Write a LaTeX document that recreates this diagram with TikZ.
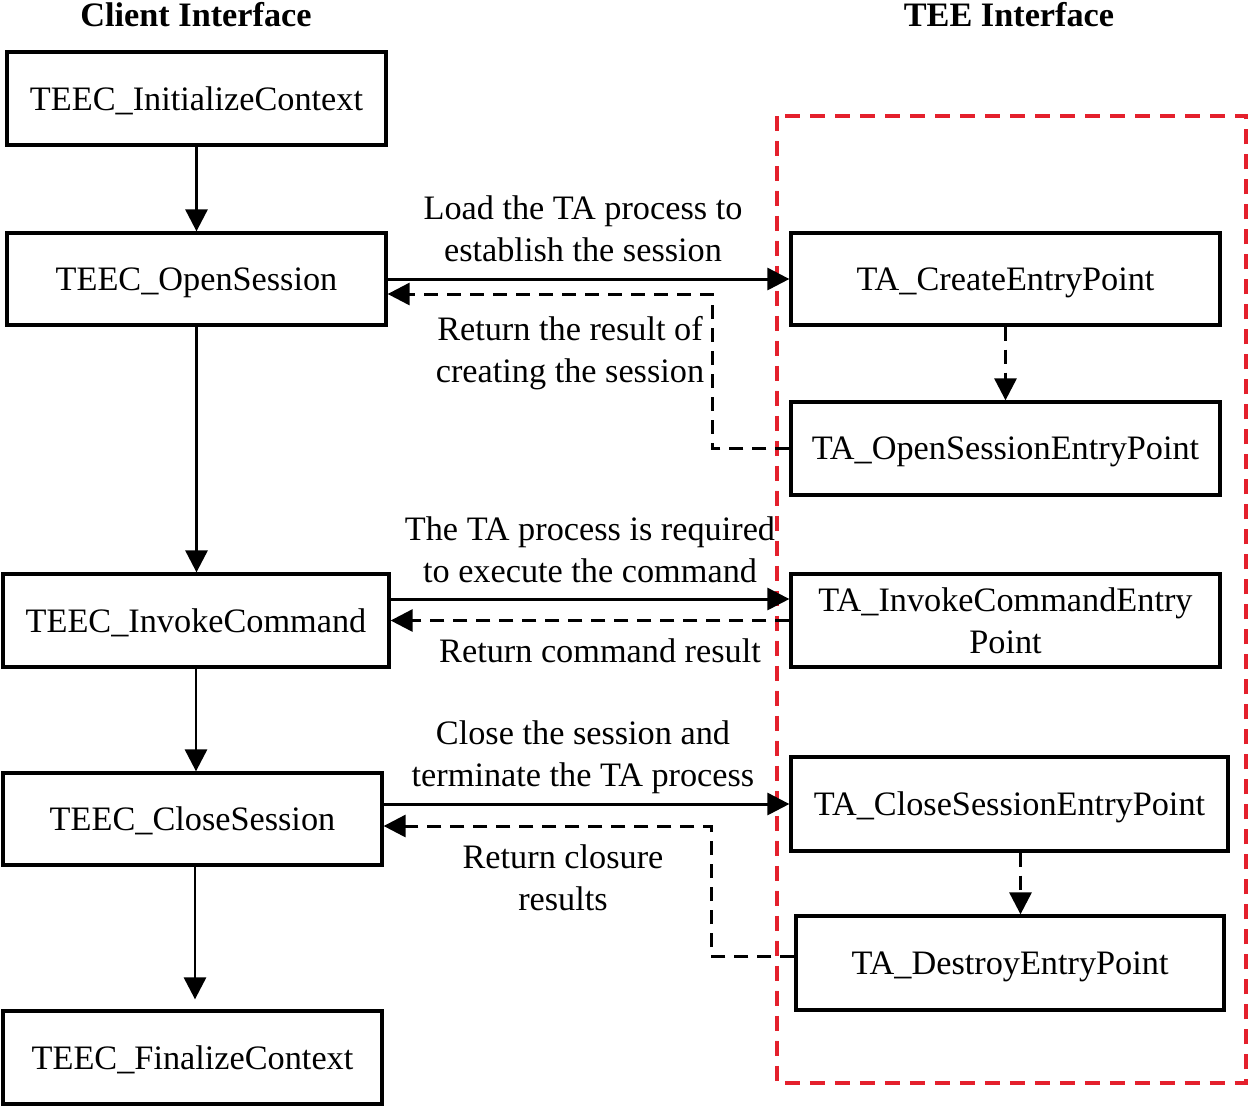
\documentclass[tikz,border=0pt]{standalone}
\usepackage{fontspec}
\setmainfont{Liberation Serif}
\usetikzlibrary{arrows.meta,calc}
\definecolor{teered}{RGB}{228,32,44}
\begin{document}
\begin{tikzpicture}[x=0.02cm,y=-0.02cm,
  every node/.style={font=\fontsize{19.5}{24}\selectfont, text=black},
  box/.style={draw, line width=1.9pt, fill=white, inner sep=0pt, align=center, text depth=0pt},
  lbl/.style={align=center, inner sep=0pt},
  hdr/.style={font=\fontsize{19.5}{24}\selectfont\bfseries, anchor=base, inner sep=0pt},
  solidarrow/.style={line width=1.7pt, -{Triangle[length=0.44cm,width=0.44cm]}},
  dasharrow/.style={line width=1.7pt, dash pattern=on 0.28cm off 0.18cm, -{Triangle[length=0.44cm,width=0.44cm]}},
  reddash/.style={line width=1.9pt, draw=teered, dash pattern=on 0.3cm off 0.2cm}]
\useasboundingbox (0,0) rectangle (1250,1107);

% TEE region
\draw[reddash] (777,116) rectangle (1246,1083);

% headers
\node[hdr] (hclient) at (196,26) {Client Interface};
\node[hdr] (htee) at (1009,26) {TEE Interface};

% client boxes
\node[box, minimum width=7.58cm, minimum height=1.86cm] (init) at (196.5,98.5) {TEEC\_InitializeContext};
\node[box, minimum width=7.58cm, minimum height=1.84cm] (open) at (196.5,279) {TEEC\_OpenSession};
\node[box, minimum width=7.72cm, minimum height=1.86cm] (invoke) at (196,620.5) {TEEC\_InvokeCommand};
\node[box, minimum width=7.58cm, minimum height=1.84cm] (close) at (192.5,819) {TEEC\_CloseSession};
\node[box, minimum width=7.58cm, minimum height=1.86cm] (final) at (192.5,1057.5) {TEEC\_FinalizeContext};

% TEE boxes
\node[box, minimum width=8.58cm, minimum height=1.84cm] (create) at (1005.5,279) {TA\_CreateEntryPoint};
\node[box, minimum width=8.58cm, minimum height=1.86cm] (openep) at (1005.5,448.5) {TA\_OpenSessionEntryPoint};
\node[box, minimum width=8.58cm, minimum height=1.86cm] (invokeep) at (1005.5,620.5) {TA\_InvokeCommandEntry\\Point};
\node[box, minimum width=8.74cm, minimum height=1.88cm] (closeep) at (1009.5,804) {TA\_CloseSessionEntryPoint};
\node[box, minimum width=8.56cm, minimum height=1.88cm] (destroy) at (1010,963) {TA\_DestroyEntryPoint};

% vertical client flow
\draw[solidarrow] (init) -- (open);
\draw[solidarrow] (open) -- (open.south |- invoke.north);
\draw[solidarrow] (invoke.south) -- (invoke.south |- close.north);
\draw[solidarrow, shorten >=0.2cm] ([xshift=0.05cm]close.south) -- ([xshift=0.05cm]final.north);

% open session
\draw[solidarrow] (open) -- (create);
\draw[dasharrow] (create) -- (openep);
\draw[dasharrow] (openep.west) -- ++(-77,0) |- ([yshift=-0.3cm]open.east);

% invoke
\draw[solidarrow] ([yshift=0.43cm]invoke.east) -- ([yshift=0.43cm]invoke.east -| invokeep.west);
\draw[dasharrow] (invokeep.west |- invoke.east) -- (invoke.east);

% close
\draw[solidarrow] (close.east |- closeep.west) -- (closeep.west);
\draw[dasharrow] ([xshift=0.22cm]closeep.south) -- ([xshift=0.22cm]closeep.south |- destroy.north);
\draw[dasharrow] ([yshift=0.14cm]destroy.west) -- ++(-83,0) |- ([yshift=-0.14cm]close.east);

% labels
\node[lbl] (l1) at (583,229) {Load the TA process to\\establish the session};
\node[lbl] (l2) at (570,353) {Return the result of\\creating the session};
\node[lbl] (l3) at (590,550) {The TA process is required\\to execute the command};
\node[lbl] (l4) at (600,651) {Return command result};
\node[lbl] (l5) at (583,757) {Close the session and\\terminate the TA process};
\node[lbl] (l6) at (563,878) {Return closure\\results};
\end{tikzpicture}
\end{document}
